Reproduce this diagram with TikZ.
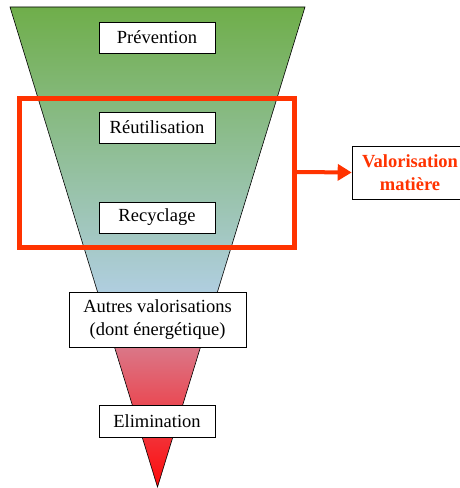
\documentclass[tikz,border=0pt]{standalone}
\usepackage{fontspec}
\setmainfont{Liberation Serif}
\usetikzlibrary{arrows.meta,shadows}
\definecolor{topgreen}{HTML}{6FAE4A}
\definecolor{midgreen}{HTML}{93BF9C}
\definecolor{lightblue}{HTML}{B6D1EE}
\definecolor{pinkc}{HTML}{D38CA0}
\definecolor{midred}{HTML}{E64C5A}
\definecolor{redc}{HTML}{FF0A0A}
\definecolor{frame}{HTML}{FF3300}
\begin{document}
\begin{tikzpicture}[x=1pt,y=1pt,
  levelbox/.style={draw=black,fill=white,line width=0.6pt,inner sep=0pt,
    font=\fontsize{18.5}{22.5}\selectfont,align=center,
    drop shadow={shadow xshift=1pt,shadow yshift=-1pt,fill=gray!70,opacity=1}},
  framebox/.style={draw=frame,line width=4.7pt},
  linkarrow/.style={draw=frame,line width=4pt,-{Triangle[length=14pt,width=16pt]}}]
\useasboundingbox (0,0) rectangle (460,488);
% funnel
\shade[top color=topgreen,middle color=midgreen,bottom color=lightblue]
  (10,481) -- (305,481) -- (208.8,168) -- (106.2,168) -- cycle;
\shade[top color=pinkc,middle color=midred,bottom color=redc]
  (106.2,168) -- (208.8,168) -- (157.5,1) -- cycle;
\draw[line width=0.6pt] (10,481) -- (305,481) -- (157.5,1) -- cycle;
% red frame
\draw[framebox] (19.5,389.5) rectangle (294.5,240.5);
\coordinate (fr) at (296.85,316);
% level boxes
\node[levelbox,minimum width=116pt,minimum height=31pt] (prev) at (157,450.5) {Prévention};
\node[levelbox,minimum width=116pt,minimum height=31pt] (reut) at (157,360.5) {Réutilisation};
\node[levelbox,minimum width=116pt,minimum height=31pt] (recy) at (157,270.5) {Recyclage};
\node[levelbox,minimum width=177pt,minimum height=55pt] (autr) at (157.5,168.5) {Autres valorisations\\(dont énergétique)};
\node[levelbox,minimum width=116pt,minimum height=32pt] (elim) at (157,67) {Elimination};
% valorisation matière
\node[levelbox,minimum width=116pt,minimum height=53pt,text=frame,font=\fontsize{18.5}{22.5}\selectfont\bfseries] (valo) at (410,315.5) {Valorisation\\matière};
\draw[linkarrow] (fr) -- (valo.west);
\end{tikzpicture}
\end{document}
